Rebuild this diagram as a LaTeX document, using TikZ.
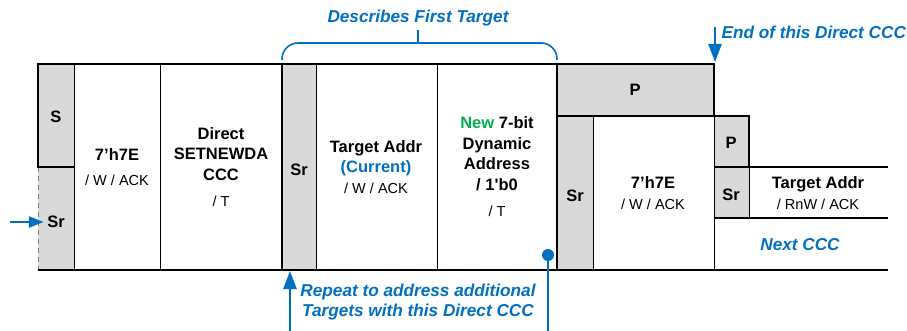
\documentclass[tikz,border=0pt]{standalone}
\usepackage{fontspec}
\setmainfont{Liberation Sans}
\usepackage{xcolor}
\usetikzlibrary{arrows.meta}

\definecolor{ccblue}{HTML}{0070C0}
\definecolor{newgreen}{HTML}{00B050}
\definecolor{boxgray}{HTML}{D9D9D9}

\newcommand{\rw}[1]{{\mdseries\fontsize{14.5}{20}\selectfont #1}}

\tikzset{
    fld/.style={align=center, font=\fontsize{16.5}{20.5}\selectfont\bfseries},
    note/.style={text=ccblue, align=center, font=\fontsize{17.2}{20}\selectfont\bfseries\itshape},
    pointer/.style={ccblue, line width=2.6pt, -{Triangle[length=18pt,width=13pt]}},
    heavy/.style={line width=1.8pt},
    light/.style={line width=0.9pt}
}

\begin{document}
\begin{tikzpicture}[x=1pt,y=-1pt]
        \useasboundingbox (0,0) rectangle (907,331);

        %GRAY FIELDS
        \fill[boxgray] (38,64) rectangle (74,270);
        \fill[boxgray] (282,64) rectangle (316,270);
        \fill[boxgray] (557,64) rectangle (714,116);
        \fill[boxgray] (557,116) rectangle (593,270);
        \fill[boxgray] (714,116) rectangle (749,218);

        %THIN LINES
        \draw[light] (74,64) -- (74,270);
        \draw[light] (160,64) -- (160,270);
        \draw[light] (316,64) -- (316,270);
        \draw[light] (437,64) -- (437,270);
        \draw[light] (593,116) -- (593,270);
        \draw[light] (714,116) -- (714,270);
        \draw[light] (749,167) -- (749,218);
        \draw[light, gray, dash pattern=on 5pt off 4pt] (38,167) -- (38,270);

        %THICK LINES
        \draw[heavy] (74,167) -- (38,167) -- (38,64) -- (714,64) -- (714,116);
        \draw[heavy] (557,116) -- (749,116) -- (749,167) -- (888,167);
        \draw[heavy] (714,167) -- (749,167);
        \draw[heavy] (714,218) -- (888,218);
        \draw[heavy] (282,64) -- (282,270);
        \draw[heavy] (557,64) -- (557,270);
        \draw[heavy] (38,270) -- (888,270);

        %FIELDS
        \node[fld] (s) at (56,117) {S};
        \node[fld] (srA) at (56,222) {Sr};
        \node[fld] (bcA) at (117,167) {7'h7E\\[5pt]\rw{/ W / ACK}};
        \node[fld] (cmd) at (221,167) {Direct\\SETNEWDA\\CCC\\[6pt]\rw{/ T}};
        \node[fld] (srB) at (299,170) {Sr};
        \node[fld] (tgt) at (376,167) {Target Addr\\\textcolor{ccblue}{(Current)}\\\rw{/ W / ACK}};
        \node[fld] (dyn) at (497,167) {\textcolor{newgreen}{New} 7-bit\\Dynamic\\Address\\/ 1\textquotesingle b0\\[6pt]\rw{/ T}};
        \node[fld] (pA) at (635,90) {P};
        \node[fld] (srC) at (575,196) {Sr};
        \node[fld] (bcB) at (653,193) {7'h7E\\\rw{/ W / ACK}};
        \node[fld] (pB) at (731,143) {P};
        \node[fld] (srD) at (731,195) {Sr};
        \node[fld] (tgtB) at (818,193) {Target Addr\\\rw{/ RnW / ACK}};

        %NOTES
        \node[note] (desc) at (418,18) {Describes First Target};
        \node[note] (rpt) at (418,302) {Repeat to address additional\\Targets with this Direct CCC};
        \node[note, anchor=west] (endn) at (718,32) {End of this Direct CCC};
        \node[note] (nxt) at (800,245) {Next CCC};

        %BRACE
        \coordinate (brTip) at (418,30);
        \draw[ccblue, line width=1.6pt, rounded corners=16pt] (282,60) |- (418,43) -| (557,60);
        \draw[ccblue, line width=1.6pt] (418,43) -- (brTip);

        %ARROWS
        \coordinate (inSr) at (10,222);
        \draw[pointer, -{Triangle[length=15pt,width=11pt]}] (inSr) -- (srA.west);
        \coordinate (rptFoot) at (290,331);
        \coordinate (rptHead) at (290,271);
        \draw[pointer] (rptFoot) -- (rptHead);
        \coordinate (loopDot) at (548,255);
        \coordinate (loopFoot) at (548,331);
        \fill[ccblue] (loopDot) circle (6);
        \draw[ccblue, line width=2.6pt] (loopDot) -- (loopFoot);
        \coordinate (endTop) at (715,27);
        \coordinate (endHead) at (715,62);
        \draw[pointer] (endTop) -- (endHead);
    \end{tikzpicture}
\end{document}
